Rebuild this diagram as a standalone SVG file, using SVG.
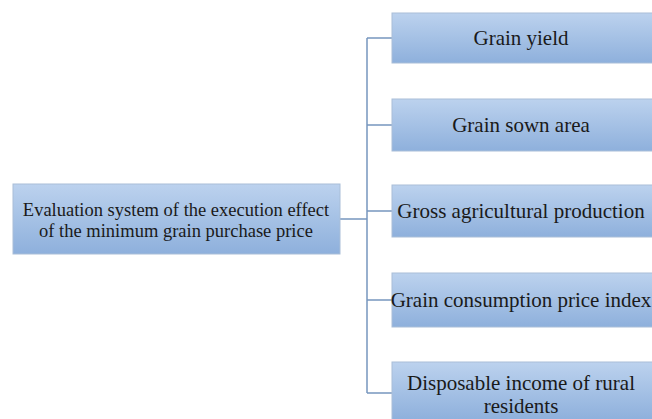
<svg xmlns="http://www.w3.org/2000/svg" width="652" height="419" viewBox="0 0 652 419">
<defs>
<linearGradient id="g" x1="0" y1="0" x2="0" y2="1">
<stop offset="0" stop-color="#bcd2ee"/>
<stop offset="1" stop-color="#8eb0dc"/>
</linearGradient>
<style>
.box{fill:url(#g);stroke:#a9bed8;stroke-width:1}
.t{fill:#1a1a1a;text-anchor:middle}
.c{fill:none;stroke:#7796bf;stroke-width:1.5}
</style>
</defs>
<rect width="652" height="419" fill="#ffffff"/>
<g id="connectors">
<path class="c" d="M340 219 H367 M367 38 V393 M367 38 H392 M367 125 H392 M367 211 H392 M367 300 H392 M367 393 H392"/>
</g>
<g font-family="Liberation Serif, Times New Roman, serif">
<g id="root" font-size="18.5">
<rect class="box" x="13" y="184" width="327" height="70"/>
<text class="t" x="176" y="216">Evaluation system of the execution effect</text>
<text class="t" x="176" y="237">of the minimum grain purchase price</text>
</g>
<g id="n1" font-size="21">
<rect class="box" x="392" y="13" width="262" height="50"/>
<text class="t" x="521" y="45">Grain yield</text>
</g>
<g id="n2" font-size="21">
<rect class="box" x="392" y="99" width="262" height="52"/>
<text class="t" x="521" y="132">Grain sown area</text>
</g>
<g id="n3" font-size="21">
<rect class="box" x="392" y="185" width="262" height="52"/>
<text class="t" x="521" y="218">Gross agricultural production</text>
</g>
<g id="n4" font-size="21">
<rect class="box" x="392" y="273" width="262" height="54"/>
<text class="t" x="521" y="307">Grain consumption price index</text>
</g>
<g id="n5" font-size="21">
<rect class="box" x="392" y="362" width="262" height="58"/>
<text class="t" x="521" y="390">Disposable income of rural</text>
<text class="t" x="521" y="413">residents</text>
</g>
</g>
</svg>
